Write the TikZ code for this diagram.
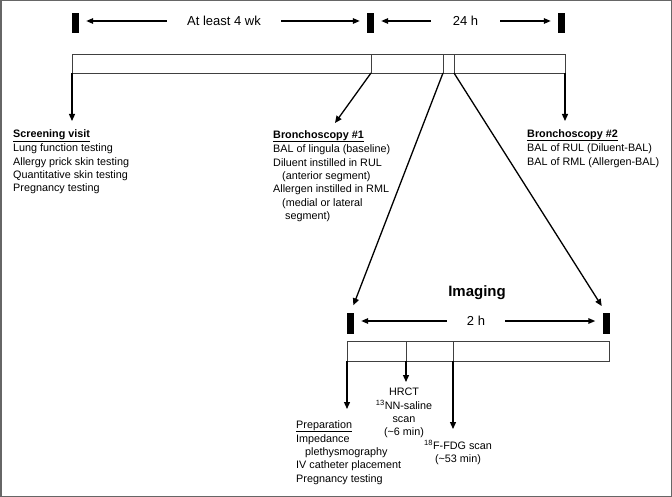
\documentclass[tikz,border=0pt]{standalone}
\usepackage{fontspec}
\setmainfont{Liberation Sans}
\usepackage{tikz}
\usetikzlibrary{arrows.meta, positioning}

\begin{document}
\begin{tikzpicture}[
            x=1pt, y=-1pt,
            barend/.style={fill=black, inner sep=0pt, minimum width=7pt, minimum height=20pt},
            seg/.style={draw=black!75, line width=0.9pt, inner sep=0pt, outer sep=0pt, minimum height=19pt},
            conn/.style={-{Triangle[length=7pt,width=6pt]}, line width=1.3pt},
            span/.style={-{Triangle[length=7pt,width=5.5pt]}, line width=1.4pt},
            spanlabel/.style={font=\fontsize{13}{15}\selectfont, inner ysep=0pt, inner xsep=20pt},
            list/.style={align=left, anchor=north west, inner sep=0pt, font=\fontsize{10.8}{13.3}\selectfont},
            centerlist/.style={list, align=center, anchor=north}
        ]
        \useasboundingbox (0,0) rectangle (672,497);
        \draw[black!60, line width=1.5pt] (0.75,0.75) rectangle (671.25,496.25);

        \node[barend] (m1) at (75.5,23) {};
        \node[barend] (m2) at (370.5,23) {};
        \node[barend] (m3) at (561.5,23) {};
        \node[spanlabel] (wk) at (224,21) {At least 4 wk};
        \node[spanlabel, inner xsep=22pt] (day) at (465.5,21) {24 h};

        \draw[span, shorten >=7pt] (wk.west) -- (wk.west -| m1.east);
        \draw[span, shorten >=7pt] (wk.east) -- (wk.east -| m2.west);
        \draw[span, shorten >=7pt] (day.west) -- (day.west -| m2.east);
        \draw[span, shorten >=7pt] (day.east) -- (day.east -| m3.west);

        \node[seg, minimum width=299pt] (bar1) at (221.5,63.5) {};
        \node[seg, minimum width=72pt] (bar2) at (407,63.5) {};
        \node[seg, minimum width=11pt] (bar3) at (448.5,63.5) {};
        \node[seg, minimum width=111pt] (bar4) at (509.5,63.5) {};

        \node[list] (scr) at (13,129) {\underline{\textbf{Screening visit}}\\[1.5pt]
            Lung function testing\\
            Allergy prick skin testing\\
            Quantitative skin testing\\
            Pregnancy testing};
        \node[list] (br1) at (273,130) {\underline{\textbf{Bronchoscopy \#1}}\\[1.5pt]
            BAL of lingula (baseline)\\
            Diluent instilled in RUL\\
            \hspace*{9pt}(anterior segment)\\
            Allergen instilled in RML\\
            \hspace*{9pt}(medial or lateral\\
            \hspace*{12pt}segment)};
        \node[list] (br2) at (527,129) {\underline{\textbf{Bronchoscopy \#2}}\\[1.5pt]
            BAL of RUL (Diluent-BAL)\\
            BAL of RML (Allergen-BAL)};
        \coordinate (b1tip) at (335,123);

        \draw[conn, shorten >=8pt] (bar1.south west) -- (bar1.south west |- scr.north);
        \draw[conn] (bar2.south west) -- (b1tip);
        \draw[conn, shorten >=8pt] (bar4.south east) -- (bar4.south east |- br2.north);

        \node[font=\fontsize{15}{17}\selectfont\bfseries] (img) at (477,293) {Imaging};
        \node[barend, minimum height=21pt] (im1) at (350.5,323.5) {};
        \node[barend, minimum height=21pt] (im2) at (606,323.5) {};
        \node[spanlabel] (twoh) at (476,321) {2 h};
        \draw[span, shorten >=7pt] (twoh.west) -- (twoh.west -| im1.east);
        \draw[span, shorten >=7pt] (twoh.east) -- (twoh.east -| im2.west);

        \draw[conn, shorten >=8pt] (bar3.south west) -- (im1.north);
        \draw[conn, shorten >=8pt] (bar3.south east) -- (im2.north);

        \node[seg, minimum width=59pt, minimum height=20pt] (i1) at (376.5,351) {};
        \node[seg, minimum width=47pt, minimum height=20pt] (i2) at (429.5,351) {};
        \node[seg, minimum width=156pt, minimum height=20pt] (i3) at (531,351) {};

        \node[list] (prep) at (296,420) {\underline{Preparation}\\[1pt]
            Impedance\\
            \hspace*{9pt}plethysmography\\
            IV catheter placement\\
            Pregnancy testing};
        \node[centerlist] (hrct) at (404,388) {HRCT\\
            \textsuperscript{13}NN-saline\\
            scan\\
            (\textasciitilde 6 min)};
        \node[centerlist] (fdg) at (458,440) {\textsuperscript{18}F-FDG scan\\
            (\textasciitilde 53 min)};

        \draw[conn, shorten >=11pt] (i1.south west) -- (i1.south west |- prep.north);
        \draw[conn, shorten >=6pt] (i2.south west) -- (i2.south west |- hrct.north);
        \draw[conn, shorten >=11pt] (i3.south west) -- (i3.south west |- fdg.north);

    \end{tikzpicture}
\end{document}
